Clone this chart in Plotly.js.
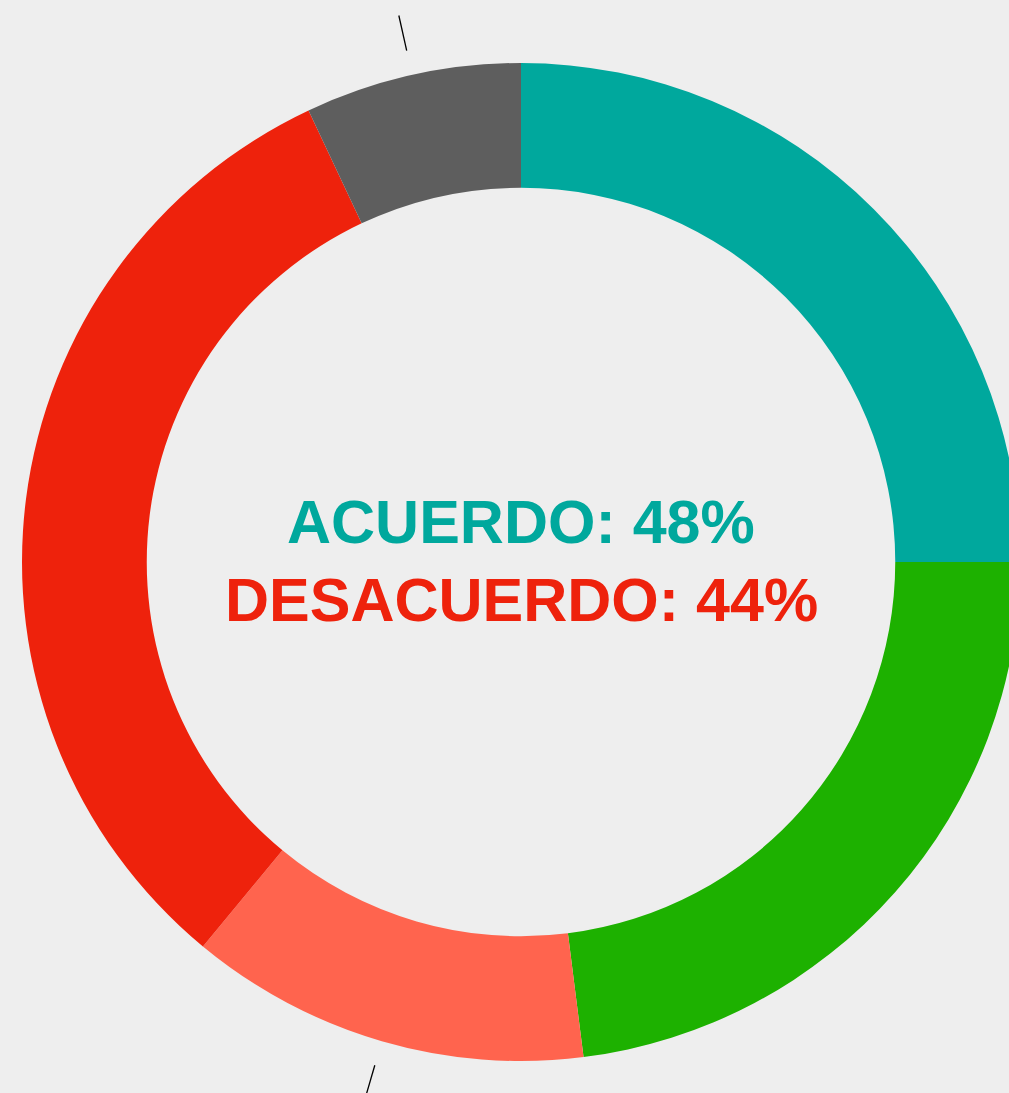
<!DOCTYPE html>
<html>
<head>
<meta charset="utf-8">
<script src="https://cdn.plot.ly/plotly-3.0.1.min.js"></script>
<style>
  html, body { margin: 0; padding: 0; background: #EEEEEE; overflow: hidden; width: 1009px; height: 1093px; }
  #chart { width: 1042px; height: 1093px; }
</style>
</head>
<body>
<div id="chart"></div>
<script>
// Data
const categories = ['Muy de acuerdo', 'De acuerdo', 'En desacuerdo', 'Muy en desacuerdo', 'NS/NC'];
const values = [25, 23, 13, 32, 7];
const colors = ['#00A89D', '#1DB100', '#FF644E', '#EE220C', '#5E5E5E'];
const centerLines = ['ACUERDO: 48%', 'DESACUERDO: 44%'];
const centerColors = ['#00A89D', '#EE220C'];
const leaderSlices = [2, 4]; // slices whose (clipped) outside labels show leader lines

const W = 1042, H = 1093;
const M = {l: 22, r: 22, t: 63, b: 32};
const plotW = W - M.l - M.r; // 998

// leader lines from data-derived mid angles
const total = values.reduce((a, b) => a + b, 0);
const shapes = [];
let cum = 0;
values.forEach((v, i) => {
  const mid = (cum + v / 2) / total * 2 * Math.PI;
  cum += v;
  if (leaderSlices.includes(i)) {
    const r0 = 524 / plotW, r1 = 560 / plotW;
    shapes.push({
      type: 'line', xref: 'paper', yref: 'paper',
      x0: 0.5 + r0 * Math.sin(mid), y0: 0.5 + r0 * Math.cos(mid),
      x1: 0.5 + r1 * Math.sin(mid), y1: 0.5 + r1 * Math.cos(mid),
      line: {color: '#000000', width: 1.3}
    });
  }
});

const trace = {
  type: 'pie',
  labels: categories,
  values: values,
  marker: {colors: colors, line: {width: 0}},
  hole: 0.75,
  sort: false,
  direction: 'clockwise',
  rotation: 0,
  textinfo: 'none',
  hoverinfo: 'label+percent',
  showlegend: false
};

const layout = {
  width: W, height: H,
  margin: M,
  paper_bgcolor: '#EEEEEE',
  plot_bgcolor: '#EEEEEE',
  showlegend: false,
  shapes: shapes,
  annotations: [
    {text: '<b>' + centerLines[0] + '</b>', x: 0.5, y: 0.540, xref: 'paper', yref: 'paper',
     xanchor: 'center', yanchor: 'middle', showarrow: false,
     font: {family: 'Liberation Sans, Arial, sans-serif', size: 61, color: centerColors[0]}},
    {text: '<b>' + centerLines[1] + '</b>', x: 0.5, y: 0.462, xref: 'paper', yref: 'paper',
     xanchor: 'center', yanchor: 'middle', showarrow: false,
     font: {family: 'Liberation Sans, Arial, sans-serif', size: 61, color: centerColors[1]}}
  ]
};

Plotly.newPlot('chart', [trace], layout, {displayModeBar: false, responsive: false});
</script>
</body>
</html>
